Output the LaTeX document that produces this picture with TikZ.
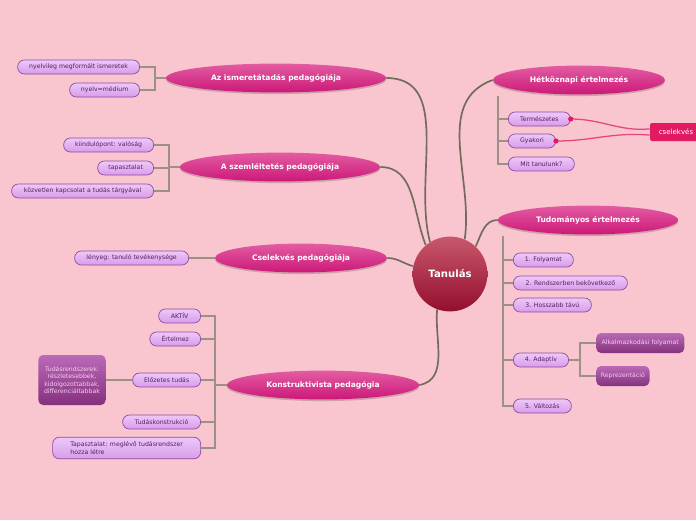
\documentclass[tikz,border=0pt]{standalone}
\usepackage{fontspec}
\setmainfont{DejaVu Sans}
\usetikzlibrary{shapes.geometric,shadows}
\definecolor{bgpink}{HTML}{F9C5CF}
\definecolor{branchc}{HTML}{736B5C}
\definecolor{stemc}{HTML}{9C9284}
\definecolor{leaffill}{HTML}{D89CEA}
\definecolor{leaftop}{HTML}{EDC8F8}
\definecolor{leafline}{HTML}{8E4C9E}
\definecolor{leaftext}{HTML}{552060}
\definecolor{topictop}{HTML}{E35CA2}
\definecolor{topicbot}{HTML}{CC1878}
\definecolor{deeptop}{HTML}{BA6AB6}
\definecolor{deepbot}{HTML}{84307E}
\definecolor{deeptext}{HTML}{F4CCF2}
\definecolor{rootlt}{HTML}{C8586C}
\definecolor{rootdk}{HTML}{940E2E}
\definecolor{tagred}{HTML}{E11A61}
\definecolor{tagline}{HTML}{E8457A}
\begin{document}
\begin{tikzpicture}[x=0.025cm, y=-0.025cm, font=\fontsize{4.4}{5.2}\selectfont,
      root/.style={circle, minimum size=1.87cm, inner sep=0pt, top color=rootlt, bottom color=rootdk, text=white, font=\fontsize{7.2}{8.5}\selectfont\bfseries},
      topic/.style={ellipse, minimum height=0.72cm, inner sep=0pt, top color=topictop, bottom color=topicbot, text=white, font=\fontsize{5.4}{6.4}\selectfont\bfseries,
        drop shadow={fill=black, opacity=0.18, shadow xshift=0pt, shadow yshift=-1.2pt}},
      leaf/.style={draw=leafline, line width=0.5pt, rounded corners=0.17cm, top color=leaftop, bottom color=leaffill, text=leaftext, minimum height=0.35cm, inner sep=0pt},
      deep/.style={rounded corners=0.12cm, top color=deeptop, bottom color=deepbot, text=deeptext, align=center, inner sep=0pt},
      tag/.style={fill=tagred, text=white, rounded corners=0.04cm, minimum width=1.3cm, minimum height=0.45cm, inner sep=0pt, font=\fontsize{5}{6}\selectfont},
      branch/.style={draw=branchc, line width=1.2pt},
      stem/.style={draw=stemc, line width=0.8pt},
      link/.style={draw=tagline, line width=0.9pt}]
    \fill[bgpink] (0,0) rectangle (696,520);
    \useasboundingbox (0,0) rectangle (696,520);

    % centre
    \node[root] (root) at (450,274) {Tanulás};

    % main topics
    \node[topic, minimum width=5.5cm] (ism) at (276,78) {Az ismeretátadás pedagógiája};
    \node[topic, minimum width=5cm] (szem) at (280,167) {A szemléltetés pedagógiája};
    \node[topic, minimum width=4.3cm] (csel) at (301,258) {Cselekvés pedagógiája};
    \node[topic, minimum width=4.8cm] (konst) at (323,385) {Konstruktivista pedagógia};
    \node[topic, minimum width=4.3cm] (hk) at (579,80) {Hétköznapi értelmezés};
    \node[topic, minimum width=4.5cm] (tud) at (588,220) {Tudományos értelmezés};

    \draw[branch] (ism.east) to[out=0,in=105] (root.122);
    \draw[branch] (szem.east) to[out=0,in=112] (root.130);
    \draw[branch] (csel.east) to[out=0,in=165] (root.168);
    \draw[branch] (konst.east) to[out=10,in=-95] (root.250);
    \draw[branch] (hk.west) to[out=200,in=82] (root.67);
    \draw[branch] (tud.west) to[out=180,in=65] (root.47);

    % Az ismeretatadas
    \node[leaf, minimum width=3.05cm, anchor=east] (nyelv1) at (140,67) {nyelvileg megformált ismeretek};
    \node[leaf, minimum width=1.75cm, anchor=east] (nyelv2) at (140,90) {nyelv=médium};
    \coordinate (ismb) at (155,78);
    \draw[stem] (ism.west) -- (ismb);
    \draw[stem] (ismb) |- (nyelv1.east);
    \draw[stem] (ismb) |- (nyelv2.east);

    % A szemleltetes
    \node[leaf, minimum width=2.25cm, anchor=east] (kiind) at (154,145) {kiindulópont: valóság};
    \node[leaf, minimum width=1.4cm, anchor=east] (tap) at (154,168) {tapasztalat};
    \node[leaf, minimum width=3.55cm, anchor=east] (kozv) at (154,191) {közvetlen kapcsolat a tudás tárgyával};
    \coordinate (szemb) at (169,167);
    \draw[stem] (szem.west) -- (szemb);
    \draw[stem] (szemb) |- (kiind.east);
    \draw[stem] (szemb) |- (tap.east);
    \draw[stem] (szemb) |- (kozv.east);

    % Cselekves
    \node[leaf, minimum width=2.85cm, anchor=east] (leny) at (189,258) {lényeg: tanuló tevékenysége};
    \draw[stem] (csel.west) -- (leny.east);

    % Konstruktivista
    \node[leaf, minimum width=1.05cm, anchor=east] (aktiv) at (201,316) {AKTÍV};
    \node[leaf, minimum width=1.27cm, anchor=east] (ertel) at (201,339) {Értelmez};
    \node[leaf, minimum width=1.7cm, anchor=east] (elozo) at (201,380) {Előzetes tudás};
    \node[leaf, minimum width=1.95cm, anchor=east] (konstr) at (201,422) {Tudáskonstrukció};
    \node[leaf, minimum width=3.7cm, minimum height=0.54cm, anchor=east, align=left] (tapasz) at (201,448)
      {Tapasztalat: meglévő tudásrendszer\\hozza létre\hspace*{1.1cm}};
    \node[deep, minimum width=1.68cm, minimum height=1.25cm] (rendsz) at (72,380)
      {Tudásrendszerek:\\részletesebbek,\\kidolgozottabbak,\\differenciáltabbak};
    \coordinate (konstb) at (215,385);
    \draw[stem] (konst.west) -- (konstb);
    \draw[stem] (konstb) |- (aktiv.east);
    \draw[stem] (konstb) |- (ertel.east);
    \draw[stem] (konstb) |- (elozo.east);
    \draw[stem] (konstb) |- (konstr.east);
    \draw[stem] (konstb) |- (tapasz.east);
    \draw[stem] (elozo.west) -- (rendsz.east);

    % Hetkoznapi
    \node[leaf, minimum width=1.55cm, anchor=west] (term) at (508,119) {Természetes};
    \node[leaf, minimum width=1.18cm, anchor=west] (gyak) at (508,141) {Gyakori};
    \node[leaf, minimum width=1.65cm, anchor=west] (mit) at (508,164) {Mit tanulunk?};
    \node[tag] (cselt) at (676,132) {cselekvés};
    \coordinate (hkb) at (498,96);
    \draw[stem] (hkb) |- (term.west);
    \draw[stem] (hkb) |- (gyak.west);
    \draw[stem] (hkb) |- (mit.west);
    \draw[link] (term.east) to[out=0,in=185] ([yshift=2.2pt]cselt.west);
    \draw[link] (gyak.east) to[out=0,in=175] ([yshift=-2.2pt]cselt.west);
    \fill[tagred] (term.east) circle (2.6);
    \fill[tagred] (gyak.east) circle (2.6);

    % Tudomanyos
    \node[leaf, minimum width=1.5cm, anchor=west] (t1) at (513,260) {1. Folyamat};
    \node[leaf, minimum width=2.85cm, anchor=west] (t2) at (513,283) {2. Rendszerben bekövetkező};
    \node[leaf, minimum width=1.95cm, anchor=west] (t3) at (513,305) {3. Hosszabb távú};
    \node[leaf, minimum width=1.38cm, anchor=west] (t4) at (513,360) {4. Adaptív};
    \node[leaf, minimum width=1.45cm, anchor=west] (t5) at (513,406) {5. Változás};
    \node[deep, minimum width=2.2cm, minimum height=0.5cm, anchor=west] (alk) at (596,343) {Alkalmazkodási folyamat};
    \node[deep, minimum width=1.33cm, minimum height=0.5cm, anchor=west] (repr) at (596,376) {Reprezentáció};
    \coordinate (tudb) at (503,236);
    \draw[stem] (tudb) |- (t1.west);
    \draw[stem] (tudb) |- (t2.west);
    \draw[stem] (tudb) |- (t3.west);
    \draw[stem] (tudb) |- (t4.west);
    \draw[stem] (tudb) |- (t5.west);
    \coordinate (adb) at (580,360);
    \draw[stem] (t4.east) -- (adb);
    \draw[stem] (adb) |- (alk.west);
    \draw[stem] (adb) |- (repr.west);
  \end{tikzpicture}
\end{document}
